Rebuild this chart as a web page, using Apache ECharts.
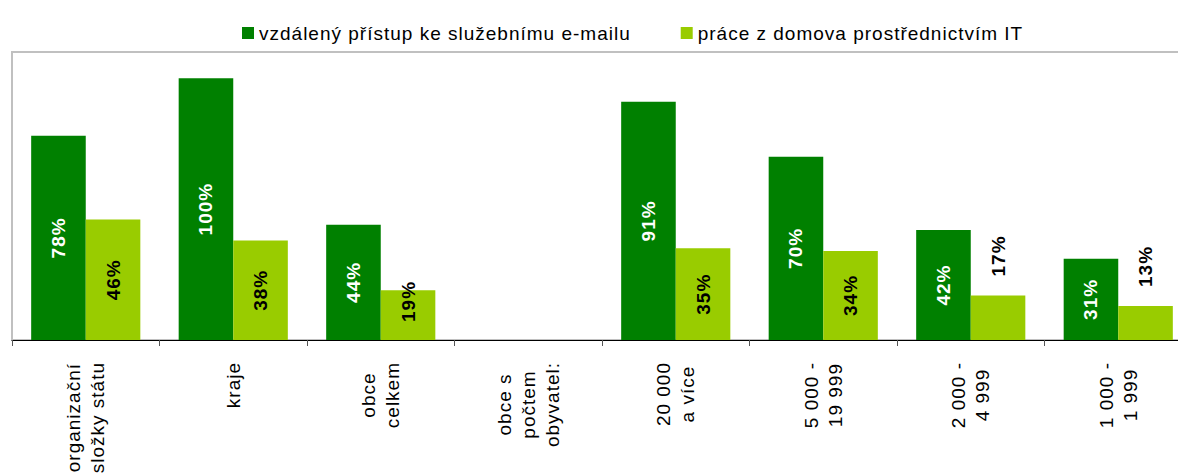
<!DOCTYPE html>
<html>
<head>
<meta charset="utf-8">
<script src="https://cdn.jsdelivr.net/npm/echarts@6/dist/echarts.min.js"></script>
<style>
  html, body { margin: 0; padding: 0; background: #fff; }
  #chart { width: 1178px; height: 473px; }
  #chart svg text { letter-spacing: 1px; }
</style>
</head>
<body>
<div id="chart"></div>
<script>
const categories = ['organizační\nsložky státu', 'kraje', 'obce\ncelkem', 'obce s\npočtem\nobyvatel:', '20 000\na více', '5 000 -\n19 999', '2 000 -\n4 999', '1 000 -\n1 999'];
const seriesNames = ['vzdálený přístup ke služebnímu e-mailu', 'práce z domova prostřednictvím IT'];
const remoteEmail = [78, 100, 44, null, 91, 70, 42, 31];
const homeWork = [46, 38, 19, null, 35, 34, 17, 13];

const LS = '1px';
const FS = 19;
const FONT = "'Liberation Sans', Arial, sans-serif";
const mctx = document.createElement('canvas').getContext('2d');
if (echarts.setPlatformAPI) {
  echarts.setPlatformAPI({
    measureText: function (text, font) {
      mctx.font = font || '12px sans-serif';
      try { mctx.letterSpacing = LS; } catch (e) {}
      return mctx.measureText(text);
    }
  });
}

const chart = echarts.init(document.getElementById('chart'), null, { renderer: 'svg' });

function homeLabel(v) {
  if (v === null) return { value: v };
  if (v < 19) {
    return { value: v, label: { position: 'top', distance: 19, align: 'left', verticalAlign: 'middle' } };
  }
  if (v < 25) {
    return { value: v, label: { position: 'insideBottom', distance: 18, align: 'left', verticalAlign: 'middle' } };
  }
  return { value: v };
}

const option = {
  animation: false,
  textStyle: { fontFamily: FONT },
  legend: {
    data: seriesNames,
    left: 237,
    top: 18,
    icon: 'rect',
    itemWidth: 12,
    itemHeight: 12,
    itemGap: 50,
    textStyle: { fontSize: FS, color: '#000', fontFamily: FONT }
  },
  grid: {
    left: 12,
    top: 52,
    right: -14,
    height: 288,
    outerBoundsMode: 'none',
    show: true,
    borderColor: '#c0c0c0',
    borderWidth: 2,
    containLabel: false
  },
  xAxis: {
    type: 'category',
    data: categories,
    boundaryGap: true,
    axisLine: { show: true, lineStyle: { color: '#000', width: 1 } },
    axisTick: { show: true, length: 6, lineStyle: { color: '#555' } },
    axisLabel: {
      interval: 0,
      rotate: 90,
      margin: 22,
      align: 'right',
      verticalAlign: 'middle',
      color: '#000',
      fontSize: FS,
      fontFamily: FONT,
      lineHeight: 24,
      formatter: function (v) {
        return v.split('\n').map(function (l) { return '{c|' + l + '}'; }).join('\n');
      },
      rich: {
        c: { align: 'center', fontSize: FS, lineHeight: 24, color: '#000', fontFamily: FONT }
      }
    }
  },
  yAxis: {
    type: 'value',
    min: 0,
    max: 110,
    show: false,
    splitLine: { show: false }
  },
  series: [
    {
      name: seriesNames[0],
      type: 'bar',
      data: remoteEmail,
      barGap: '0%',
      barCategoryGap: '26%',
      itemStyle: { color: '#008000' },
      label: {
        show: true,
        position: 'inside',
        rotate: 90,
        formatter: '{c}%',
        color: '#fff',
        fontWeight: 'bold',
        fontSize: FS,
        fontFamily: FONT
      }
    },
    {
      name: seriesNames[1],
      type: 'bar',
      data: homeWork.map(homeLabel),
      itemStyle: { color: '#99cc00' },
      label: {
        show: true,
        position: 'inside',
        rotate: 90,
        formatter: '{c}%',
        color: '#000',
        fontWeight: 'bold',
        fontSize: FS,
        fontFamily: FONT
      }
    }
  ]
};
chart.setOption(option);
</script>
</body>
</html>
